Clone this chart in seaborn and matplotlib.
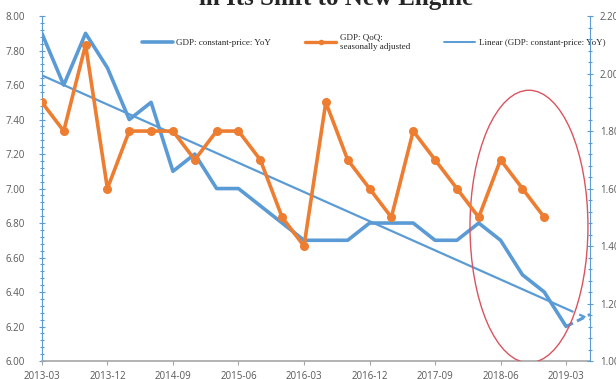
import numpy as np
import pandas as pd
import matplotlib
matplotlib.use("Agg")
import matplotlib.pyplot as plt
import seaborn as sns
from matplotlib.patches import Ellipse
from matplotlib.ticker import MultipleLocator, FixedLocator, FixedFormatter
from matplotlib.lines import Line2D

# quarters 2013-03 .. 2019-03
quarters = ["2013-03", "2013-06", "2013-09", "2013-12", "2014-03", "2014-06", "2014-09",
            "2014-12", "2015-03", "2015-06", "2015-09", "2015-12", "2016-03", "2016-06",
            "2016-09", "2016-12", "2017-03", "2017-06", "2017-09", "2017-12", "2018-03",
            "2018-06", "2018-09", "2018-12", "2019-03"]

# GDP constant-price YoY (left axis)
gdp_yoy = [7.9, 7.6, 7.9, 7.7, 7.4, 7.5, 7.1, 7.2, 7.0, 7.0, 6.9, 6.8, 6.7,
           6.7, 6.7, 6.8, 6.8, 6.8, 6.7, 6.7, 6.8, 6.7, 6.5, 6.4, 6.2]

# GDP QoQ seasonally adjusted (right axis), up to 2018-12
gdp_qoq = [1.9, 1.8, 2.1, 1.6, 1.8, 1.8, 1.8, 1.7, 1.8, 1.8, 1.7, 1.5,
           1.4, 1.9, 1.7, 1.6, 1.5, 1.8, 1.7, 1.6, 1.5, 1.7, 1.6, 1.5]

# dashed tail after 2019-03
tail_x = [24, 25.1]
tail_yoy = [6.2, 6.27]

tick_labels = quarters[::3]

BLUE = "#5B9BD5"
ORANGE = "#ED7D31"
GRAY = "#595959"

sns.set_style("white")
plt.rcParams["font.family"] = ["Open Sans", "DejaVu Sans"]

df_yoy = pd.DataFrame({"q": np.arange(len(gdp_yoy)), "v": gdp_yoy})
df_qoq = pd.DataFrame({"q": np.arange(len(gdp_qoq)), "v": gdp_qoq})

# linear trend of YoY
coef = np.polyfit(df_yoy["q"], df_yoy["v"], 1)
trend_x = np.array([0, 24.3])
trend_ext = np.array([24.6, 25.1])

fig = plt.figure(figsize=(6.16, 3.79), dpi=100)
ax = fig.add_axes([0.068, 0.0475, 0.89, 0.91])
ax2 = ax.twinx()

sns.lineplot(data=df_yoy, x="q", y="v", ax=ax, color=BLUE, lw=2.6, zorder=3)
ax.plot(tail_x, tail_yoy, color=BLUE, lw=2.2, ls=(0, (2.5, 1.5)), zorder=3)
ax.plot(trend_x, np.polyval(coef, trend_x), color=BLUE, lw=1.6, zorder=2)
ax.plot(trend_ext, np.polyval(coef, trend_ext), color=BLUE, lw=1.6, ls=(0, (3, 2)), zorder=2)
sns.lineplot(data=df_qoq, x="q", y="v", ax=ax2, color=ORANGE, lw=2.6,
             marker="o", markersize=6.5, markeredgewidth=0, zorder=4)

ell = Ellipse((22.3, 6.78), 5.4, 1.58, fill=False, edgecolor="#D9545E", lw=1.0, zorder=5)
ax.add_patch(ell)

ax.set_xlim(0, 25.1)
ax.set_ylim(6.0, 8.0)
ax2.set_ylim(1.0, 2.2)
ax.set_xlabel("")
ax.set_ylabel("")
ax2.set_ylabel("")

ax.xaxis.set_major_locator(FixedLocator(np.arange(0, 25, 3)))
ax.xaxis.set_major_formatter(FixedFormatter(tick_labels))
ax.yaxis.set_major_locator(MultipleLocator(0.2))
ax.yaxis.set_minor_locator(MultipleLocator(0.04))
ax2.yaxis.set_major_locator(MultipleLocator(0.2))
ax2.yaxis.set_minor_locator(MultipleLocator(0.04))
ax.yaxis.set_major_formatter(lambda v, p: f"{v:.2f}")
ax2.yaxis.set_major_formatter(lambda v, p: f"{v:.2f}")

for a in (ax, ax2):
    a.spines["top"].set_visible(False)
    a.spines["left"].set_color(BLUE)
    a.spines["right"].set_color(BLUE)
    a.spines["bottom"].set_color("#A6A6A6")
    a.tick_params(labelsize=7, labelcolor=GRAY)
ax2.spines["left"].set_visible(False)
ax2.spines["bottom"].set_visible(False)
ax.spines["right"].set_visible(False)
ax.spines["bottom"].set_linewidth(1.2)

ax.tick_params(axis="y", which="both", direction="inout", color=BLUE, length=4, width=0.8, pad=10)
ax.tick_params(axis="y", which="minor", length=3)
ax2.tick_params(axis="y", which="both", direction="inout", color=BLUE, length=4, width=0.8, pad=5)
ax2.tick_params(axis="y", which="minor", length=3)
ax.tick_params(axis="x", direction="out", color="#A6A6A6", length=3, pad=4, bottom=True)

handles = [
    Line2D([], [], color=BLUE, lw=2.6),
    Line2D([], [], color=ORANGE, lw=2.4, marker="o", markersize=4, markeredgewidth=0),
    Line2D([], [], color=BLUE, lw=1.4),
]
labels = ["GDP: constant-price: YoY", "GDP: QoQ:\nseasonally adjusted",
          "Linear (GDP: constant-price: YoY)"]
ax.legend(handles, labels, loc="center", bbox_to_anchor=(0.605, 0.925), ncol=3, frameon=False,
          prop={"family": "Liberation Serif", "size": 6.5}, handlelength=3.4,
          columnspacing=3.8, handletextpad=0.4)

fig.text(0.545, 1.004, "in Its Shift to New Engine", ha="center", va="center",
         fontsize=18, fontweight="bold", family="Liberation Serif")

fig.savefig("out.png", dpi=100)
